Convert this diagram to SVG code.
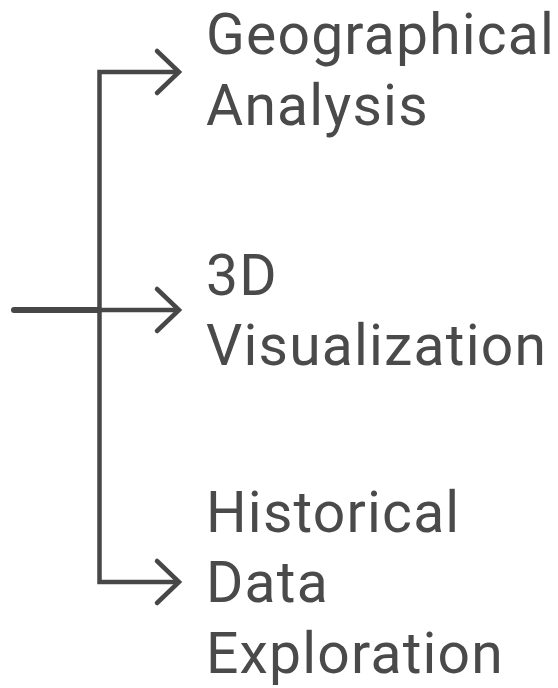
<svg xmlns="http://www.w3.org/2000/svg" width="558" height="688" viewBox="0 0 558 688">
  <defs>
    <style>
      .wire { fill: none; stroke: #474747; stroke-width: 4.5; stroke-linejoin: miter; stroke-linecap: butt; }
      .trunk { fill: none; stroke: #474747; stroke-width: 6; stroke-linecap: round; }
      .head { fill: none; stroke: #474747; stroke-width: 4.5; stroke-linecap: round; stroke-linejoin: miter; }
      .label { font-family: Roboto, "Liberation Sans", sans-serif; font-size: 57px; letter-spacing: 1.2px; fill: #4a4a4a; }
    </style>
  </defs>
  <rect width="558" height="688" fill="#ffffff"/>

  <g id="connectors">
    <!-- incoming line -->
    <path class="trunk" d="M14 310 H99"/>
    <!-- bracket spine with three outgoing branches -->
    <path class="wire" d="M178 72 H99.5 V582 H178"/>
    <path class="wire" d="M99.5 310 H178"/>
    <!-- open arrowheads -->
    <path class="head" d="M157 51 L179 72 L157 93"/>
    <path class="head" d="M157 289 L179 310 L157 331"/>
    <path class="head" d="M157 561 L179 582 L157 603"/>
  </g>

  <g id="geographical-analysis">
    <text class="label" x="206" y="54">Geographical</text>
    <text class="label" x="206" y="125">Analysis</text>
  </g>

  <g id="visualization-3d">
    <text class="label" x="206" y="295">3D</text>
    <text class="label" x="206" y="365">Visualization</text>
  </g>

  <g id="historical-data-exploration">
    <text class="label" x="206" y="532">Historical</text>
    <text class="label" x="206" y="602">Data</text>
    <text class="label" x="206" y="673">Exploration</text>
  </g>
</svg>
